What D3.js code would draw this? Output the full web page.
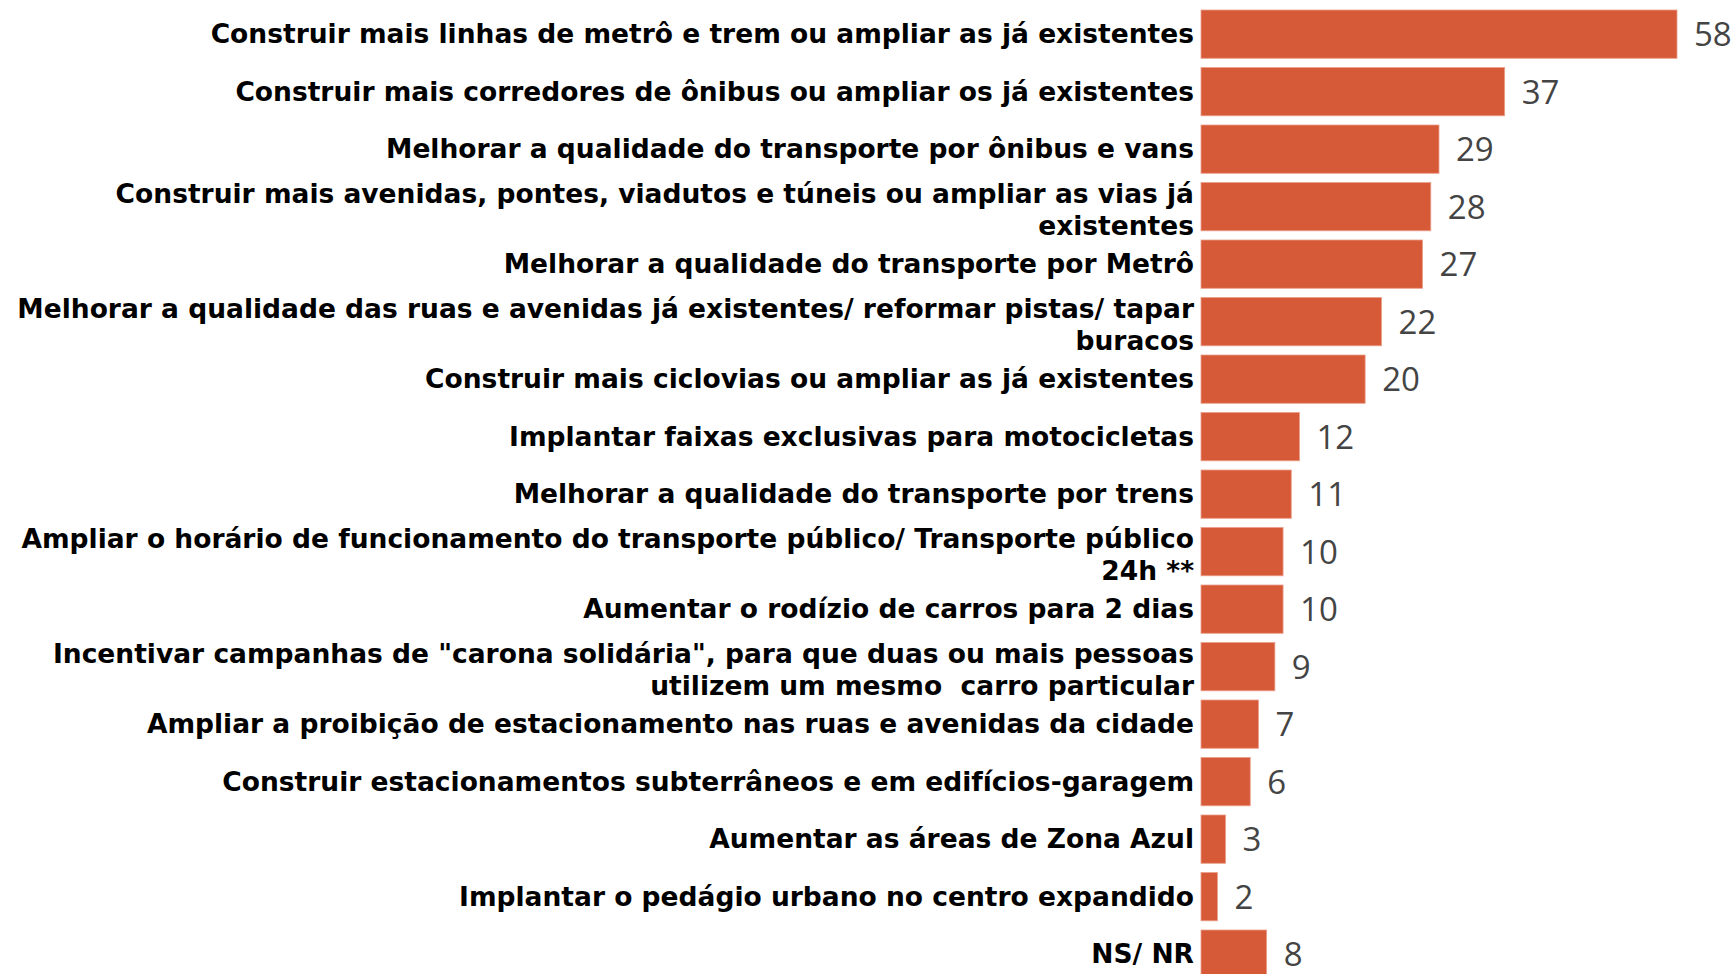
<!DOCTYPE html>
<html>
<head>
<meta charset="utf-8">
<script src="https://cdn.jsdelivr.net/npm/d3@7"></script>
<style>
  html, body { margin: 0; padding: 0; background: #ffffff; }
  svg { display: block; }
  .cat { font-family: "DejaVu Sans", Verdana, sans-serif; font-weight: bold; font-size: 26.5px; fill: #000000; white-space: pre; }
  .val { font-family: "Open Sans", "Noto Sans", sans-serif; font-size: 33px; fill: #444444; }
</style>
</head>
<body>
<svg id="chart" width="1736" height="974"></svg>
<script>
// Category labels (line breaks split with "\n")
const categories = [
  "Construir mais linhas de metrô e trem ou ampliar as já existentes",
  "Construir mais corredores de ônibus ou ampliar os já existentes",
  "Melhorar a qualidade do transporte por ônibus e vans",
  "Construir mais avenidas, pontes, viadutos e túneis ou ampliar as vias já\nexistentes",
  "Melhorar a qualidade do transporte por Metrô",
  "Melhorar a qualidade das ruas e avenidas já existentes/ reformar pistas/ tapar\nburacos",
  "Construir mais ciclovias ou ampliar as já existentes",
  "Implantar faixas exclusivas para motocicletas",
  "Melhorar a qualidade do transporte por trens",
  "Ampliar o horário de funcionamento do transporte público/ Transporte público\n24h **",
  "Aumentar o rodízio de carros para 2 dias",
  "Incentivar campanhas de \"carona solidária\", para que duas ou mais pessoas\nutilizem um mesmo  carro particular",
  "Ampliar a proibição de estacionamento nas ruas e avenidas da cidade",
  "Construir estacionamentos subterrâneos e em edifícios-garagem",
  "Aumentar as áreas de Zona Azul",
  "Implantar o pedágio urbano no centro expandido",
  "NS/ NR"
];

// Percentages
const values = [58, 37, 29, 28, 27, 22, 20, 12, 11, 10, 10, 9, 7, 6, 3, 2, 8];

const barColor = "#d65a38";

const svg = d3.select("#chart");

const x = d3.scaleLinear()
  .domain([0, 58])
  .range([1201, 1677]);

const y = d3.scaleBand()
  .domain(categories)
  .range([5.4, 982.9])
  .paddingInner(0.16)
  .paddingOuter(0.08);

const rows = categories.map((c, i) => ({ cat: c, value: values[i] }));

// Bars
svg.append("g")
  .selectAll("rect")
  .data(rows)
  .join("rect")
  .attr("x", x(0))
  .attr("y", d => y(d.cat))
  .attr("width", d => x(d.value) - x(0))
  .attr("height", y.bandwidth())
  .attr("fill", barColor)
  .attr("stroke", "#ec9f8a")
  .attr("stroke-width", 0.8);

// Value labels
svg.append("g")
  .selectAll("text")
  .data(rows)
  .join("text")
  .attr("class", "val")
  .attr("x", d => x(d.value) + 17)
  .attr("y", d => y(d.cat) + y.bandwidth() / 2 + 12)
  .text(d => d.value);

// Category labels, right-aligned next to the bars
const lineGap = 32;
const labels = svg.append("g")
  .selectAll("text")
  .data(rows)
  .join("text")
  .attr("class", "cat")
  .attr("text-anchor", "end")
  .attr("x", x(0) - 7);

labels.each(function (d) {
  const lines = d.cat.split("\n");
  const c = y(d.cat) + y.bandwidth() / 2;
  const first = lines.length === 1 ? c + 9 : c - 4;
  d3.select(this).selectAll("tspan")
    .data(lines)
    .join("tspan")
    .attr("x", x(0) - 7)
    .attr("y", (l, i) => first + i * lineGap)
    .text(l => l);
});
</script>
</body>
</html>
